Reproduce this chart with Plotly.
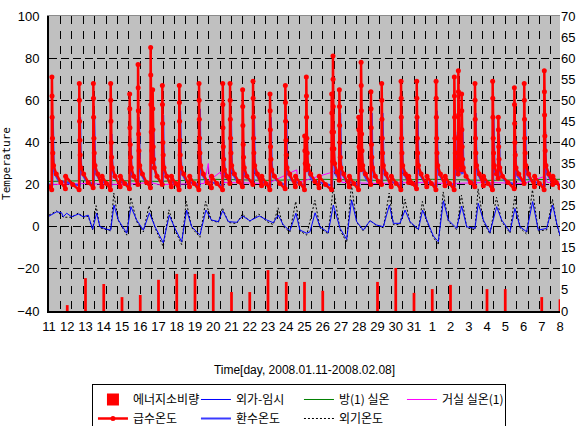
import plotly.graph_objects as go

# ---------------- data ----------------
day_pos = list(range(29))
day_labels = [str(d) for d in range(11, 32)] + [str(d) for d in range(1, 9)]

# energy consumption (right axis)
energy_day = [1, 2, 3, 4, 5, 6, 7, 8, 9, 10, 11, 12, 13, 14, 15, 18, 19, 20, 21, 22, 24, 25, 27, 28]
energy_val = [1.4, 7.8, 6.4, 3.3, 3.8, 7.4, 8.8, 8.8, 8.8, 4.5, 4.5, 9.7, 6.9, 6.9, 4.8, 6.9, 10.2,
              4.3, 5.2, 6.2, 5.2, 5.2, 3.3, 2.8]

# 외가-임시 (blue thin)
ext_t = [0.00, 0.42, 0.69, 0.78, 0.97, 1.24, 1.61, 1.88, 2.15, 2.39, 2.61, 2.79, 3.16, 3.38, 3.56, 3.80,
         4.26, 4.49, 4.80, 5.17, 5.50, 5.81, 6.26, 6.59, 6.90, 7.27, 7.54, 7.82, 8.27, 8.60, 8.90, 9.28,
         9.52, 9.83, 10.28, 10.61, 11.01, 11.52, 11.93, 12.29, 12.56, 12.84, 13.20, 13.53, 13.75, 14.12,
         14.30, 14.58, 14.85, 15.30, 15.58, 15.95, 16.31, 16.58, 16.86, 17.22, 17.59, 17.95, 18.32, 18.65,
         18.87, 19.23, 19.51, 19.78, 20.24, 20.47, 20.70, 21.06, 21.33, 21.61, 21.88, 22.34, 22.61, 22.89,
         23.34, 23.52, 23.80, 24.16, 24.53, 24.80, 25.26, 25.53, 25.81, 26.17, 26.50, 26.81, 27.27, 27.60,
         27.82, 28.00]
ext_v = [5.0, 7.1, 6.6, 4.7, 6.4, 4.7, 6.0, 4.7, 5.5, -1.2, 6.4, 0.0, -1.2, -1.6, 10.3, 3.2,
         -3.1, 9.5, 3.2, -1.6, 6.6, 0.0, -7.6, 5.5, -0.8, -7.1, 7.9, 0.0, -4.0, 7.9, 3.2, 2.4,
         7.6, 2.4, 2.1, 5.1, 2.8, 5.1, 3.2, 1.9, 5.5, 0.8, -1.9, 6.4, -1.6, -3.1,
         -2.4, 6.6, 0.0, -2.8, 10.3, -0.8, -6.0, 12.7, 2.4, -1.6, 2.8, 0.8, 0.0, 10.3,
         1.6, 1.6, 7.9, 2.4, -1.2, 7.9, 3.2, -4.4, -7.1, 12.3, 3.2, -0.8, 9.8, 0.0,
         -0.8, 11.1, 3.2, -2.8, 9.5, 3.2, -2.4, 8.7, 0.0, -2.4, 11.9, -1.6, -0.8, 10.3,
         1.6, -4.0]

# 외기온도 (black dotted)
out_t = [0.00, 0.42, 0.78, 1.24, 1.61, 1.88, 2.15, 2.39, 2.58, 2.79, 3.38, 3.55, 3.80, 4.26, 4.48, 4.80,
         5.17, 5.48, 5.81, 6.26, 6.57, 6.90, 7.27, 7.52, 7.82, 8.27, 8.58, 8.90, 9.28, 9.50, 9.83, 10.28,
         10.60, 11.01, 11.50, 11.93, 12.29, 12.55, 12.84, 13.20, 13.52, 13.75, 14.12, 14.57, 14.85, 15.30,
         15.57, 15.95, 16.31, 16.57, 16.86, 17.22, 17.59, 17.95, 18.32, 18.64, 18.87, 19.23, 19.50, 19.78,
         20.24, 20.46, 20.70, 21.06, 21.33, 21.60, 21.88, 22.34, 22.60, 22.89, 23.34, 23.51, 23.80, 24.16,
         24.52, 24.80, 25.26, 25.52, 25.81, 26.17, 26.49, 26.81, 27.27, 27.59, 27.82, 28.00]
out_v = [5.5, 7.5, 4.5, 4.5, 6.5, 4.5, 5.0, -1.5, 10.0, -0.5, -2.0, 16.0, 3.0, -4.0, 14.0, 2.5,
         -2.5, 10.0, -0.5, -9.5, 8.0, -1.5, -8.5, 12.0, -0.5, -5.0, 12.0, 3.0, 2.0, 9.0, 2.0, 1.5,
         6.0, 2.5, 6.0, 2.5, 1.0, 9.0, 0.0, -2.5, 12.0, -2.0, -4.0, 12.5, -0.5, -3.5,
         18.5, -1.5, -7.5, 20.0, 2.0, -2.0, 3.0, 0.5, -0.5, 16.0, 1.0, 1.0, 13.0, 2.0,
         -1.5, 12.0, 2.5, -5.0, -8.5, 16.5, 2.5, -1.5, 15.0, -0.5, -1.5, 18.0, 2.5, -3.5,
         14.0, 2.5, -3.0, 14.5, -0.5, -3.5, 17.5, -2.0, -1.5, 13.0, 1.0, -4.5]

# 방(1) 실온 (green)
room_t = [0, 3, 6, 9, 12, 15, 18, 21, 24, 28]
room_v = [21.5, 22.0, 21.5, 22.5, 22.0, 22.5, 22.0, 22.5, 22.0, 22.5]

# 거실 실온(1) (magenta)
living_t = [0, 2, 4, 5.6, 6, 8.5, 8.73, 8.8, 9.4, 9.5, 12, 13.57, 13.65, 15.95, 16.05, 18, 20, 22, 24,
            26, 27.2, 27.3, 28]
living_v = [20.0, 20.5, 20.0, 21.0, 20.0, 20.5, 30.0, 22.0, 26.0, 21.0, 20.5, 27.0, 21.0, 27.0, 21.0,
            20.5, 21.0, 20.5, 21.0, 20.5, 24.0, 21.0, 20.5]

# 급수온도 (red, markers)
supply = [
    (0.00, 19.0), (0.15, 17.5),
    (0.16, 71), (0.167, 62), (0.175, 52), (0.19, 42), (0.21, 35), (0.25, 29), (0.40, 25), (0.65, 21), (0.90, 18), (0.91, 24), (1.30, 20),
    (1.65, 17.5), (1.66, 68), (1.667, 60), (1.675, 50), (1.69, 41), (1.71, 34), (1.75, 28), (1.90, 25), (2.15, 21),
    (2.42, 18.5), (2.43, 68), (2.437, 61), (2.445, 52), (2.46, 42), (2.48, 35), (2.52, 29), (2.67, 25), (2.90, 19), (2.91, 24), (3.15, 20.5),
    (3.37, 17.5), (3.38, 68), (3.387, 60), (3.395, 50), (3.41, 40), (3.43, 33), (3.47, 28), (3.62, 24), (3.90, 19), (3.91, 24), (4.15, 20.5),
    (4.41, 18), (4.42, 63), (4.427, 56), (4.435, 47), (4.45, 39), (4.47, 33), (4.51, 28), (4.64, 24),
    (4.87, 20), (4.88, 77), (4.887, 66), (4.895, 55), (4.91, 44), (4.93, 36), (4.97, 29), (5.12, 25), (5.35, 21),
    (5.56, 18.5), (5.57, 85), (5.577, 72), (5.585, 58), (5.60, 45), (5.63, 36), (5.67, 31),
    (5.68, 65), (5.687, 56), (5.695, 46), (5.71, 38), (5.73, 32), (5.77, 28), (5.92, 24),
    (6.20, 20), (6.21, 67), (6.217, 58), (6.225, 49), (6.24, 40), (6.26, 34), (6.30, 28), (6.45, 24), (6.70, 19), (6.71, 24), (6.95, 20.5),
    (7.13, 17.5), (7.14, 67), (7.147, 59), (7.155, 50), (7.17, 41), (7.19, 34), (7.23, 28), (7.38, 25), (7.70, 19), (7.71, 24), (7.95, 20.5),
    (8.21, 17.5), (8.22, 68), (8.227, 60), (8.235, 51), (8.25, 42), (8.27, 35), (8.31, 29), (8.46, 25), (8.68, 21), (8.90, 18.5), (8.91, 24), (9.20, 20.5),
    (9.51, 17.5), (9.52, 68), (9.527, 58), (9.535, 47), (9.55, 38), (9.57, 32), (9.61, 27), (9.74, 24),
    (9.91, 20.5), (9.92, 68), (9.927, 60), (9.935, 51), (9.95, 42), (9.97, 35), (10.01, 29), (10.16, 25), (10.38, 21.5),
    (10.60, 19), (10.61, 65), (10.617, 57), (10.625, 48), (10.64, 39), (10.66, 33), (10.70, 28), (10.84, 24),
    (11.17, 20), (11.18, 69), (11.187, 61), (11.195, 52), (11.21, 42), (11.23, 35), (11.27, 29), (11.42, 25), (11.65, 19.5), (11.66, 24), (11.88, 20.5),
    (12.10, 17.5), (12.11, 63), (12.117, 55), (12.125, 46), (12.14, 38), (12.16, 32), (12.20, 27), (12.35, 24), (12.65, 20.5),
    (12.94, 18), (12.95, 67), (12.957, 59), (12.965, 50), (12.98, 41), (13.00, 34), (13.04, 28), (13.19, 25), (13.50, 19), (13.51, 24), (13.75, 20.5),
    (14.00, 17.5), (14.01, 43), (14.02, 36), (14.04, 30), (14.09, 27),
    (14.10, 71), (14.107, 62), (14.115, 52), (14.13, 42), (14.15, 35), (14.19, 29), (14.34, 25), (14.57, 21.5), (14.80, 18.5), (14.81, 24), (15.15, 20),
    (15.48, 17.5), (15.49, 63), (15.497, 54), (15.505, 45), (15.52, 37), (15.55, 31),
    (15.56, 81), (15.567, 70), (15.575, 57), (15.59, 45), (15.61, 37), (15.65, 30), (15.78, 26),
    (15.90, 22), (15.91, 65), (15.917, 57), (15.925, 48), (15.94, 40), (15.96, 33), (16.00, 28), (16.15, 25), (16.45, 19), (16.46, 24), (16.70, 20.5),
    (16.96, 17.5), (16.97, 52), (16.977, 46), (16.99, 38), (17.02, 32), (17.09, 27),
    (17.10, 78), (17.107, 67), (17.115, 55), (17.13, 44), (17.15, 36), (17.19, 29), (17.34, 25),
    (17.63, 20), (17.64, 64), (17.647, 56), (17.655, 47), (17.67, 39), (17.69, 33), (17.73, 28), (17.88, 24), (18.05, 21.5),
    (18.22, 20), (18.23, 68), (18.237, 60), (18.245, 51), (18.26, 42), (18.28, 35), (18.32, 29), (18.47, 25), (18.75, 19), (18.76, 24), (19.02, 20.5),
    (19.28, 17.5), (19.29, 69), (19.297, 61), (19.305, 52), (19.32, 42), (19.34, 35), (19.38, 29), (19.53, 25), (19.70, 21), (19.71, 24), (19.92, 20.5),
    (20.14, 18), (20.15, 69), (20.157, 61), (20.165, 52), (20.18, 42), (20.20, 35), (20.24, 29), (20.39, 25), (20.70, 19), (20.71, 24), (20.95, 20.5),
    (21.20, 17.5), (21.21, 69), (21.217, 61), (21.225, 52), (21.24, 42), (21.26, 35), (21.30, 29), (21.45, 25), (21.70, 19.5), (21.71, 24), (21.95, 20.5),
    (22.20, 17.5), (22.21, 71), (22.217, 62), (22.225, 52), (22.24, 42), (22.26, 35), (22.30, 29), (22.42, 25),
    (22.43, 74), (22.437, 64), (22.445, 53), (22.46, 43), (22.48, 36), (22.52, 30), (22.60, 27),
    (22.61, 63), (22.617, 55), (22.625, 46), (22.64, 38), (22.66, 32), (22.70, 28), (22.85, 24), (23.10, 21),
    (23.33, 19), (23.34, 68), (23.347, 60), (23.355, 51), (23.37, 42), (23.39, 35), (23.43, 29), (23.58, 25), (23.80, 19.5), (23.81, 24), (24.05, 20.5),
    (24.30, 17.5), (24.31, 69), (24.317, 61), (24.325, 52), (24.34, 42), (24.36, 35), (24.40, 29), (24.52, 25),
    (24.61, 23), (24.62, 52), (24.627, 46), (24.64, 38), (24.66, 32), (24.70, 28), (24.85, 24), (25.15, 21),
    (25.49, 18), (25.50, 66), (25.507, 58), (25.515, 49), (25.53, 40), (25.55, 34), (25.59, 28), (25.74, 25),
    (26.03, 20.5), (26.04, 68), (26.047, 60), (26.055, 51), (26.07, 42), (26.09, 35), (26.13, 29), (26.28, 25), (26.60, 19), (26.61, 24), (26.87, 20.5),
    (27.13, 17.5), (27.14, 74), (27.147, 64), (27.155, 53), (27.17, 43), (27.19, 36), (27.23, 29), (27.38, 25), (27.60, 20), (27.61, 24), (27.80, 21),
    (28.00, 18.5),
]

# 환수온도 (blue spikes)
ret = [
    (0.00, 20),
    (0.19, 20), (0.21, 52), (0.23, 38), (0.26, 30), (0.32, 25), (0.51, 22),
    (1.69, 19.5), (1.71, 52), (1.73, 38), (1.76, 30), (1.82, 25), (2.01, 22),
    (2.46, 20), (2.48, 52), (2.50, 38), (2.53, 30), (2.59, 25), (2.78, 22),
    (3.41, 19.5), (3.43, 44), (3.45, 35), (3.48, 29), (3.54, 25), (3.73, 22),
    (4.45, 19.5), (4.47, 42), (4.49, 34), (4.52, 28), (4.58, 24), (4.77, 22),
    (4.91, 21), (4.93, 52), (4.95, 38), (4.98, 30), (5.04, 25), (5.23, 22),
    (5.60, 20), (5.62, 56), (5.64, 40), (5.67, 32), (5.71, 30), (5.73, 45), (5.75, 35), (5.78, 29), (5.84, 25), (6.03, 22),
    (6.24, 21), (6.26, 53), (6.28, 38), (6.31, 30), (6.37, 25), (6.56, 22),
    (7.17, 19.5), (7.19, 55), (7.21, 39), (7.24, 31), (7.30, 25), (7.49, 22),
    (8.25, 19.5), (8.27, 56), (8.29, 40), (8.32, 31), (8.38, 25), (8.57, 22),
    (9.55, 19.5), (9.57, 41), (9.59, 33), (9.62, 28), (9.68, 24), (9.87, 22),
    (9.95, 21), (9.97, 52), (9.99, 38), (10.02, 30), (10.08, 25), (10.27, 22),
    (10.64, 20), (10.66, 41), (10.68, 33), (10.71, 28), (10.77, 24), (10.96, 22),
    (11.21, 20.5), (11.23, 53), (11.25, 38), (11.28, 30), (11.34, 25), (11.53, 22),
    (12.14, 19.5), (12.16, 52), (12.18, 38), (12.21, 30), (12.27, 25), (12.46, 22),
    (12.98, 19.5), (13.00, 53), (13.02, 38), (13.05, 30), (13.11, 25), (13.30, 22),
    (14.03, 19.5), (14.05, 43), (14.07, 34), (14.10, 30), (14.13, 53), (14.15, 38), (14.18, 30), (14.24, 25), (14.43, 22),
    (15.52, 19.5), (15.54, 40), (15.56, 33), (15.59, 49), (15.61, 37), (15.64, 30), (15.70, 25), (15.89, 22.5),
    (15.94, 22), (15.96, 54), (15.98, 39), (16.01, 31), (16.07, 25), (16.26, 22),
    (17.00, 19.5), (17.02, 44), (17.04, 35), (17.08, 29), (17.13, 53), (17.15, 38), (17.18, 30), (17.24, 25), (17.43, 22),
    (17.67, 20.5), (17.69, 54), (17.71, 39), (17.74, 31), (17.80, 25), (17.99, 22),
    (18.26, 20.5), (18.28, 54), (18.30, 39), (18.33, 31), (18.39, 25), (18.58, 22),
    (19.32, 19.5), (19.34, 52), (19.36, 38), (19.39, 30), (19.45, 25), (19.64, 22),
    (20.18, 20), (20.20, 52), (20.22, 38), (20.25, 30), (20.31, 25), (20.50, 22),
    (21.24, 19.5), (21.26, 55), (21.28, 39), (21.31, 31), (21.37, 25), (21.56, 22),
    (22.24, 19.5), (22.26, 45), (22.28, 35), (22.31, 29), (22.37, 25), (22.44, 24), (22.46, 53), (22.48, 38),
    (22.51, 30), (22.57, 26), (22.64, 25), (22.66, 47), (22.68, 36), (22.71, 29), (22.77, 25), (22.96, 22),
    (23.37, 20.5), (23.39, 54), (23.41, 39), (23.44, 31), (23.50, 25), (23.69, 22),
    (24.34, 19.5), (24.36, 52), (24.38, 38), (24.41, 30), (24.47, 25), (24.64, 23.5), (24.66, 44), (24.68, 35),
    (24.71, 29), (24.77, 25), (24.96, 22),
    (25.53, 20), (25.55, 42), (25.57, 34), (25.60, 28), (25.66, 24), (25.85, 22),
    (26.07, 21), (26.09, 52), (26.11, 38), (26.14, 30), (26.20, 25), (26.39, 22),
    (27.17, 19.5), (27.19, 45), (27.21, 35), (27.24, 29), (27.30, 25), (27.49, 22),
    (28.00, 19.5),
]

supply_t = [p[0] for p in supply]
supply_v = [p[1] for p in supply]
ret_t = [p[0] for p in ret]
ret_v = [p[1] for p in ret]

# ---------------- figure ----------------
KFONT = "Noto Sans CJK KR"
TFONT = "Liberation Sans"
fig = go.Figure()

fig.add_trace(go.Bar(x=energy_day, y=energy_val, yaxis="y2", name="에너지소비량",
                     marker=dict(color="#ff0000", line=dict(width=0)), width=0.15, legendrank=1))
fig.add_trace(go.Scatter(x=room_t, y=room_v, mode="lines", name="방(1) 실온",
                         line=dict(color="#008000", width=1), legendrank=3))
fig.add_trace(go.Scatter(x=living_t, y=living_v, mode="lines", name="거실 실온(1)",
                         line=dict(color="#ff00ff", width=1), legendrank=4))
fig.add_trace(go.Scatter(x=out_t, y=out_v, mode="lines", name="외기온도",
                         line=dict(color="#000000", width=1, dash="2px,2px"), legendrank=7))
fig.add_trace(go.Scatter(x=ext_t, y=ext_v, mode="lines", name="외가-임시",
                         line=dict(color="#0000ff", width=1), legendrank=2))
fig.add_trace(go.Scatter(x=ret_t, y=ret_v, mode="lines", name="환수온도",
                         line=dict(color="#3a3aff", width=2), legendrank=6))
fig.add_trace(go.Scatter(x=supply_t, y=supply_v, mode="lines+markers", name="급수온도",
                         line=dict(color="#ff0000", width=2.5),
                         marker=dict(color="#ff0000", size=5), legendrank=5))
# helper trace for the fine vertical grid axis
fig.add_trace(go.Scatter(x=[0, 28], y=[None, None], xaxis="x2", mode="lines",
                         showlegend=False, hoverinfo="skip"))

fig.update_layout(
    width=582, height=426,
    margin=dict(l=49, r=22, t=16, b=115),
    paper_bgcolor="white",
    plot_bgcolor="#c0c0c0",
    barmode="overlay",
    font=dict(family=KFONT, size=12, color="#000000"),
    xaxis=dict(range=[0, 28], tickmode="array", tickvals=day_pos, ticktext=day_labels,
               showgrid=False, zeroline=False, showline=True, linecolor="#000000", linewidth=2,
               ticks="", ticklabelstandoff=2, automargin=False,
               tickfont=dict(family=TFONT, size=13),
               title=dict(text="Time[day, 2008.01.11-2008.02.08]", standoff=33,
                          font=dict(family=TFONT, size=12))),
    xaxis2=dict(range=[0, 28], overlaying="x", side="top", tick0=0, dtick=0.625,
                showgrid=True, gridcolor="#000000", gridwidth=1, griddash="8px,7px",
                showticklabels=False, ticks="", zeroline=False, automargin=False,
                showline=True, linecolor="#8c8c8c", linewidth=1),
    yaxis=dict(range=[-40, 100], dtick=20, showgrid=True, gridcolor="#000000", gridwidth=1,
               griddash="8px,4px", zeroline=False, showline=True, linecolor="#000000", linewidth=2,
               ticks="", ticklabelstandoff=5, automargin=False,
               tickfont=dict(family=TFONT, size=13),
               title=dict(text="Temperature", standoff=4,
                          font=dict(family="DejaVu Sans Mono", size=11))),
    yaxis2=dict(range=[0, 70], dtick=5, overlaying="y", side="right", showgrid=False,
                zeroline=False, showline=False, ticks="", automargin=False,
                tickfont=dict(family=TFONT, size=13)),
    legend=dict(orientation="h", xref="container", yref="container",
                x=0.158, y=0.0986, xanchor="left", yanchor="top",
                bgcolor="white", bordercolor="#000000", borderwidth=1,
                font=dict(family=KFONT, size=12), entrywidth=58, entrywidthmode="pixels",
                traceorder="normal", tracegroupgap=0),
)

fig.write_html("out.html", config={"displayModeBar": False},
               post_script="document.body.style.margin='0';document.body.style.overflow='hidden';")
